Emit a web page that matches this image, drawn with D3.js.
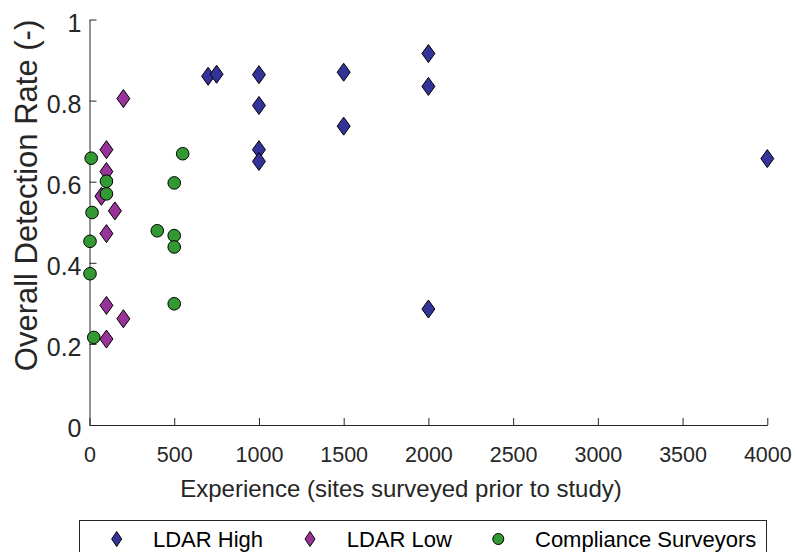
<!DOCTYPE html>
<html>
<head>
<meta charset="utf-8">
<script src="https://cdn.jsdelivr.net/npm/d3@7"></script>
<style>
  html, body { margin: 0; padding: 0; background: #fff; }
  svg { display: block; font-family: "Liberation Sans", Arial, Helvetica, sans-serif; }
</style>
</head>
<body>
<svg id="chart" width="795" height="552"></svg>
<script>
// Experience (sites surveyed) vs overall detection rate, per surveyor group
const ldarHighX = [700, 750, 1000, 1000, 1000, 1000, 1500, 1500, 2000, 2000, 2000, 4000];
const ldarHighY = [0.860, 0.865, 0.864, 0.788, 0.679, 0.650, 0.870, 0.737, 0.916, 0.835, 0.286, 0.657];

const ldarLowX = [100, 100, 70, 150, 100, 100, 200, 100, 200];
const ldarLowY = [0.679, 0.625, 0.564, 0.528, 0.472, 0.295, 0.262, 0.212, 0.805];

const complianceX = [10, 550, 100, 500, 100, 15, 400, 500, 500, 3, 3, 500, 25];
const complianceY = [0.658, 0.669, 0.601, 0.597, 0.570, 0.524, 0.479, 0.467, 0.439, 0.453, 0.373, 0.299, 0.216];

const xTicks = [0, 500, 1000, 1500, 2000, 2500, 3000, 3500, 4000];
const yTicks = [0, 0.2, 0.4, 0.6, 0.8, 1];

const seriesNames = ["LDAR High", "LDAR Low", "Compliance Surveyors"];

const svg = d3.select("#chart");
const axisColor = "#262626";

const x = d3.scaleLinear().domain([0, 4000]).range([89.5, 767.3]);
const y = d3.scaleLinear().domain([0, 1]).range([425, 19.5]);

// x axis (ticks pointing inward)
const gx = svg.append("g")
  .attr("transform", `translate(0,${y(0)})`)
  .call(d3.axisBottom(x).tickValues(xTicks).tickFormat(d3.format("d"))
    .tickSizeInner(-7).tickSizeOuter(0));
gx.select(".domain").attr("stroke", axisColor);
gx.selectAll(".tick line").attr("stroke", axisColor);
gx.selectAll(".tick text")
  .attr("y", 36.7).attr("dy", null)
  .attr("fill", axisColor).attr("font-size", 21.5)
  .attr("font-family", "Liberation Sans, Arial, sans-serif");

// y axis (ticks pointing inward)
const gy = svg.append("g")
  .attr("transform", `translate(${x(0)},0)`)
  .call(d3.axisLeft(y).tickValues(yTicks).tickFormat(d => d3.format("~g")(d))
    .tickSizeInner(-7).tickSizeOuter(0));
gy.select(".domain").attr("stroke", axisColor);
gy.selectAll(".tick line").attr("stroke", axisColor);
gy.selectAll(".tick text")
  .attr("x", -8).attr("dy", 11.5)
  .attr("fill", axisColor).attr("font-size", 25)
  .attr("font-family", "Liberation Sans, Arial, sans-serif");

// axis titles
svg.append("text")
  .attr("x", 401).attr("y", 496.7)
  .attr("text-anchor", "middle")
  .attr("font-size", 24).attr("fill", axisColor)
  .text("Experience (sites surveyed prior to study)");

svg.append("text")
  .attr("transform", "translate(37,195.5) rotate(-90)")
  .attr("text-anchor", "middle")
  .attr("font-size", 31).attr("fill", axisColor)
  .text("Overall Detection Rate (-)");

// marker shapes
function diamondPath(cx, cy, w, h) {
  return `M${cx},${cy - h / 2}L${cx + w / 2},${cy}L${cx},${cy + h / 2}L${cx - w / 2},${cy}Z`;
}

const colors = ["#333399", "#993399", "#339933"];
const plot = svg.append("g");

function drawDiamonds(xs, ys, color) {
  plot.append("g").selectAll("path")
    .data(xs.map((v, i) => [v, ys[i]]))
    .join("path")
    .attr("d", d => diamondPath(x(d[0]), y(d[1]), 13, 18))
    .attr("fill", color)
    .attr("stroke", "#000").attr("stroke-width", 1);
}

drawDiamonds(ldarHighX, ldarHighY, colors[0]);
drawDiamonds(ldarLowX, ldarLowY, colors[1]);

plot.append("g").selectAll("circle")
  .data(complianceX.map((v, i) => [v, complianceY[i]]))
  .join("circle")
  .attr("cx", d => x(d[0])).attr("cy", d => y(d[1]))
  .attr("r", 6.3)
  .attr("fill", colors[2])
  .attr("stroke", "#000").attr("stroke-width", 1);

// legend
const legend = svg.append("g");
legend.append("rect")
  .attr("x", 79.5).attr("y", 520.5)
  .attr("width", 687).attr("height", 60)
  .attr("fill", "#fff").attr("stroke", axisColor).attr("stroke-width", 1);

const legendItems = [
  { name: seriesNames[0], mx: 116.7, tx: 153, shape: "diamond", color: colors[0] },
  { name: seriesNames[1], mx: 310, tx: 346.7, shape: "diamond", color: colors[1] },
  { name: seriesNames[2], mx: 498.3, tx: 535, shape: "circle", color: colors[2] }
];
const legendY = 539;
legendItems.forEach(it => {
  if (it.shape === "diamond") {
    legend.append("path")
      .attr("d", diamondPath(it.mx, legendY, 10, 15))
      .attr("fill", it.color).attr("stroke", "#000").attr("stroke-width", 1);
  } else {
    legend.append("circle")
      .attr("cx", it.mx).attr("cy", legendY).attr("r", 5.5)
      .attr("fill", it.color).attr("stroke", "#000").attr("stroke-width", 1);
  }
  legend.append("text")
    .attr("x", it.tx).attr("y", 546.7)
    .attr("font-size", 22).attr("fill", "#000")
    .text(it.name);
});
</script>
</body>
</html>
